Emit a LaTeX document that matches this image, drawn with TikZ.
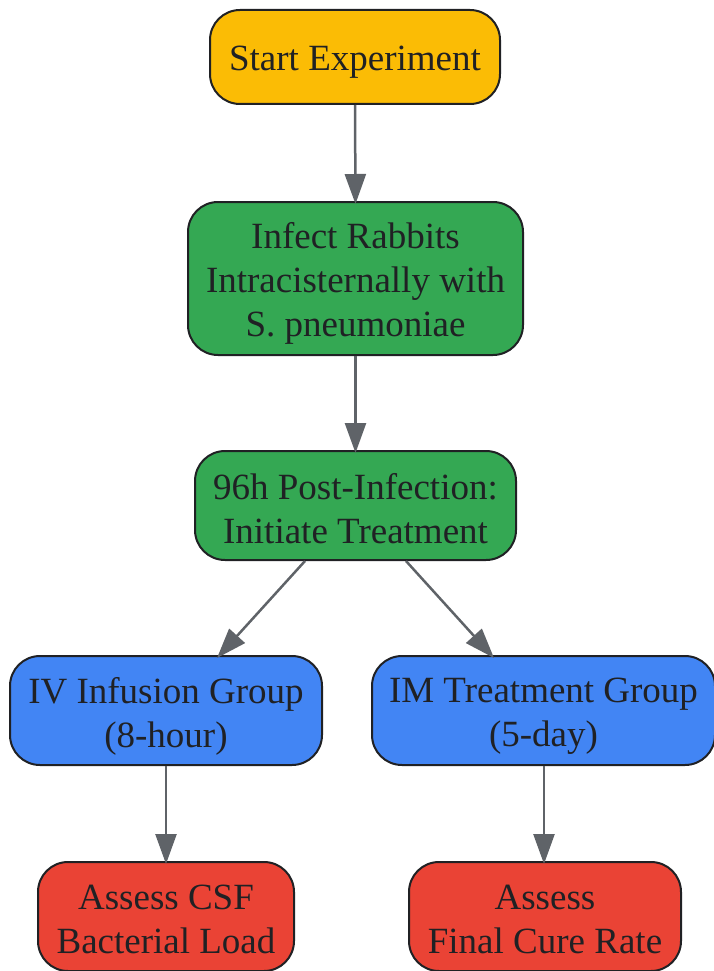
\documentclass[tikz,border=0pt]{standalone}
\usepackage{fontspec}
\setmainfont{Liberation Serif}
\usetikzlibrary{arrows.meta}
\definecolor{cyellow}{HTML}{FBBC05}
\definecolor{cgreen}{HTML}{34A853}
\definecolor{cblue}{HTML}{4285F4}
\definecolor{cred}{HTML}{EA4335}
\definecolor{cborder}{HTML}{202124}
\definecolor{carrow}{HTML}{5F6368}
\tikzset{
  box/.style={draw=cborder, line width=2pt, rounded corners=30pt, inner sep=0pt},
  txt/.style={align=center, inner sep=0pt, text=cborder, font=\fontsize{37}{44}\selectfont},
  arr/.style={draw=carrow, line width=2.5pt, -{Triangle[length=30pt,width=21pt]}}
}
\begin{document}
\begin{tikzpicture}[x=1pt,y=-1pt]
\useasboundingbox (0,0) rectangle (714,971);
\node[box, fill=cyellow, minimum width=290pt, minimum height=94pt] (n1) at (355,57) {};
\node[box, fill=cgreen, minimum width=335pt, minimum height=153pt] (n2) at (355.5,278.5) {};
\node[box, fill=cgreen, minimum width=321pt, minimum height=109pt] (n3) at (355.5,505.5) {};
\node[box, fill=cblue, minimum width=312pt, minimum height=109pt] (n4) at (166,710.5) {};
\node[box, fill=cblue, minimum width=343pt, minimum height=109pt] (n5) at (543.5,710.5) {};
\node[box, fill=cred, minimum width=256pt, minimum height=109pt] (n6) at (166,916.5) {};
\node[box, fill=cred, minimum width=272pt, minimum height=109pt] (n7) at (545,916.5) {};
\node[txt] (t1) at ([yshift=-5pt]n1.center) {Start Experiment};
\node[txt] (t2) at ([yshift=-4.5pt]n2.center) {Infect Rabbits\\Intracisternally with\\S. pneumoniae};
\node[txt] (t3) at ([yshift=-3pt]n3.center) {96h Post-Infection:\\Initiate Treatment};
\node[txt] (t4) at ([yshift=-5.5pt]n4.center) {IV Infusion Group\\(8-hour)};
\node[txt] (t5) at ([yshift=-5.5pt]n5.center) {IM Treatment Group\\(5-day)};
\node[txt] (t6) at ([yshift=-3pt]n6.center) {Assess CSF\\Bacterial Load};
\node[txt] (t7) at ([yshift=-3pt]n7.center) {Assess\\Final Cure Rate};
\draw[arr] (n1.south) -- ([yshift=-3pt]n2.north);
\draw[arr] (n2.south) -- ([yshift=-3pt]n3.north);
\draw[arr] ([xshift=-50.5pt]n3.south) -- ([xshift=51pt,yshift=-3pt]n4.north);
\draw[arr] ([xshift=50.5pt]n3.south) -- ([xshift=-49.5pt,yshift=-3pt]n5.north);
\draw[arr] (n4.south) -- ([yshift=-3pt]n6.north);
\draw[arr] ([xshift=0.5pt]n5.south) -- ([xshift=-1pt,yshift=-3pt]n7.north);
\end{tikzpicture}
\end{document}
